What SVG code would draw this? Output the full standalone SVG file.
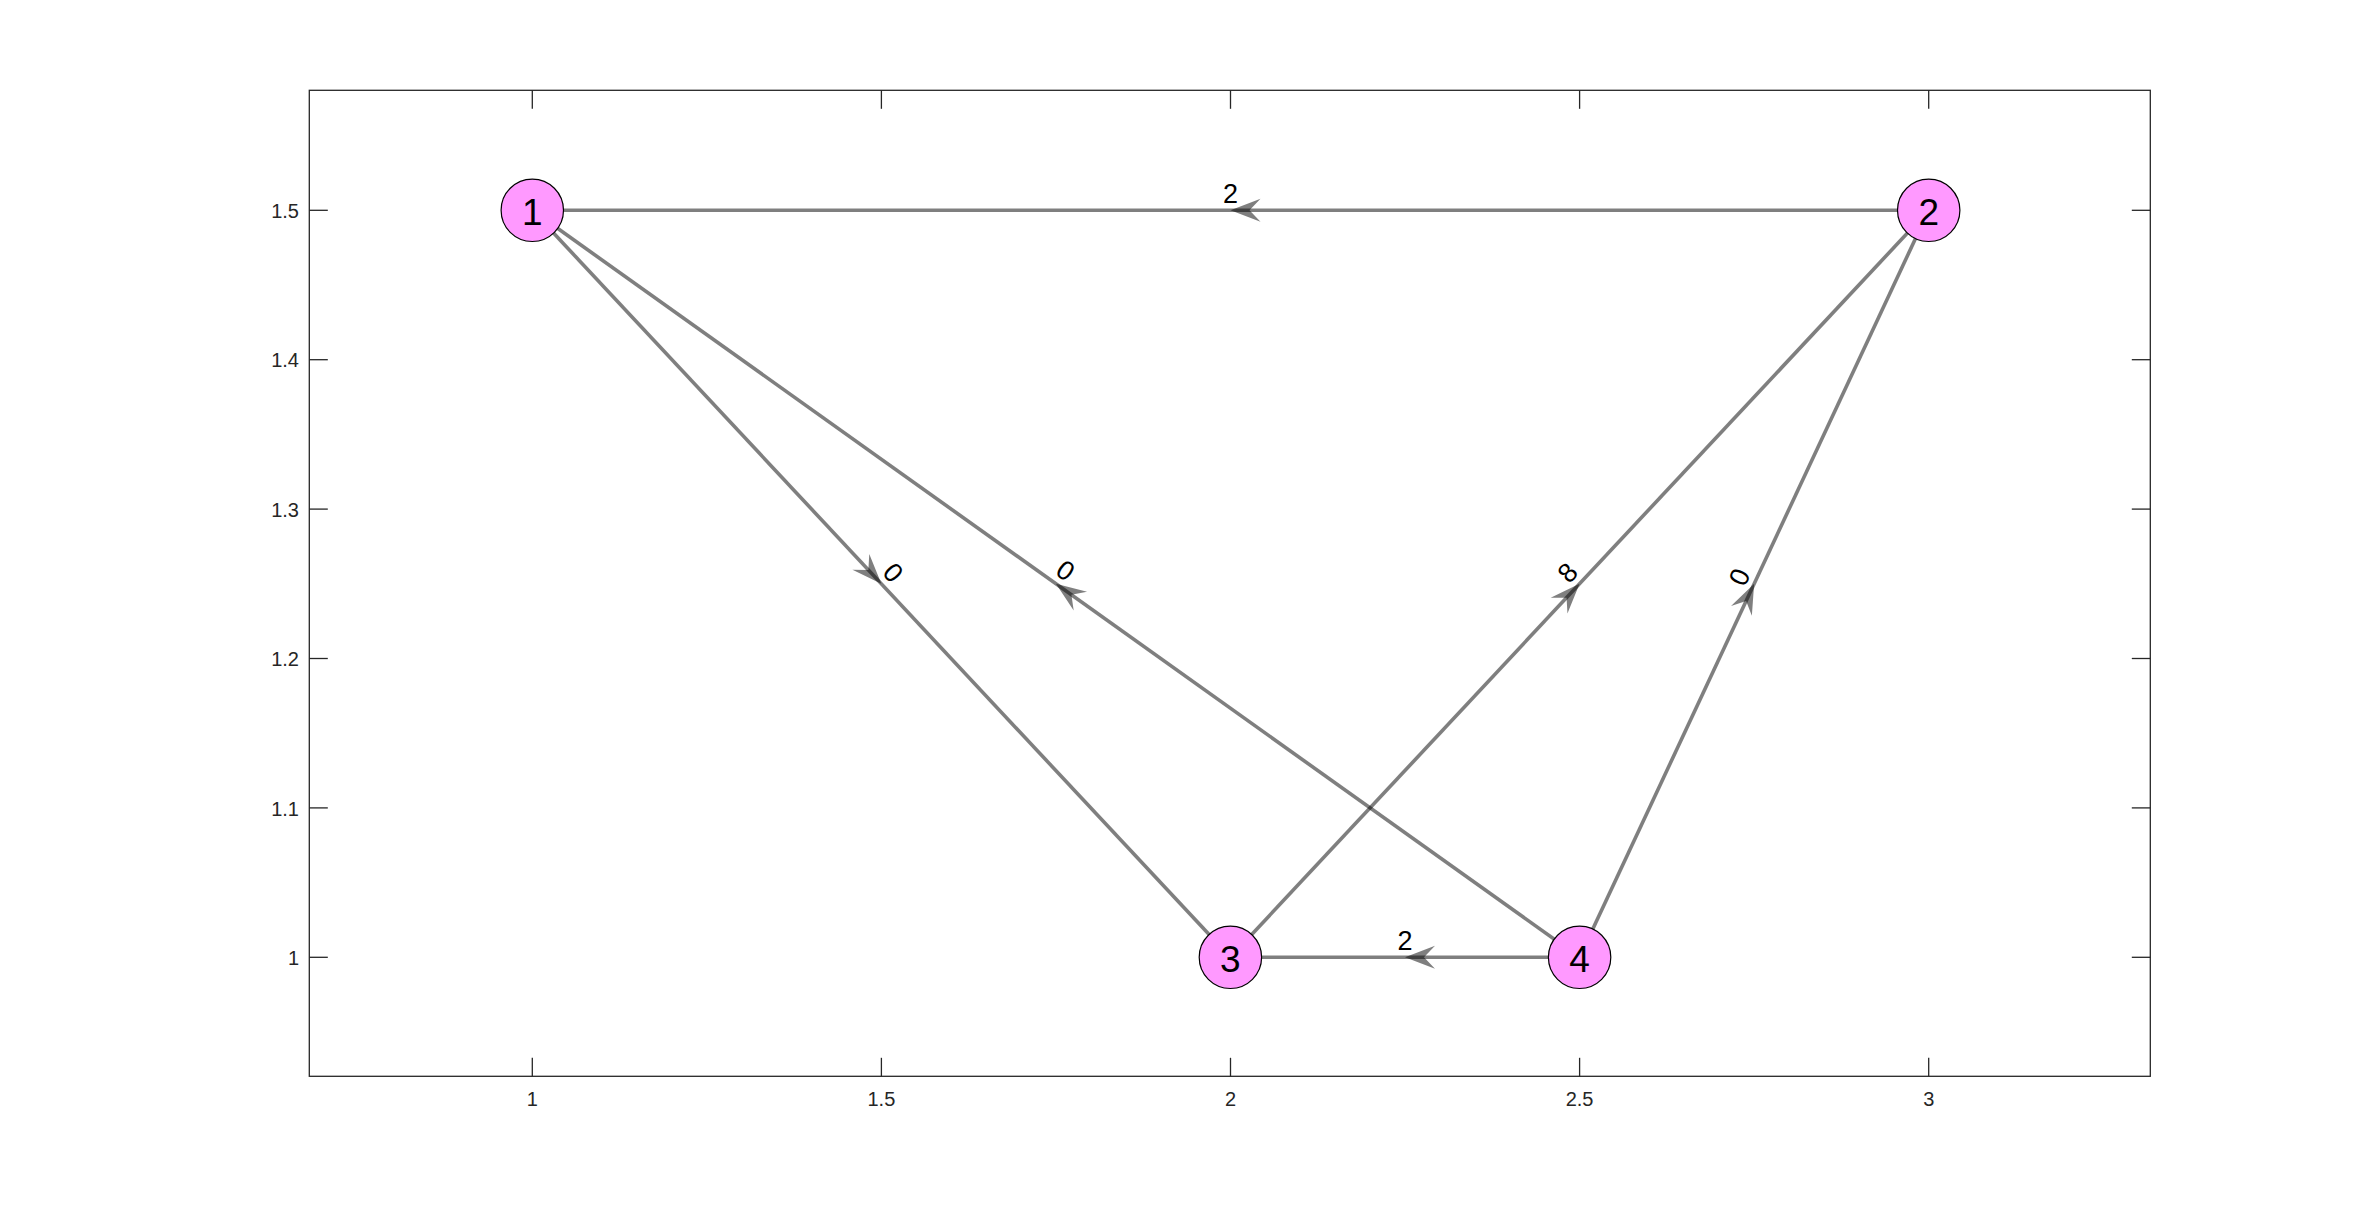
<svg xmlns="http://www.w3.org/2000/svg" xmlns:xlink="http://www.w3.org/1999/xlink" width="2378" height="1210" viewBox="0 0 2378 1210">
<style>
.ax{fill:none;stroke:#262626;stroke-width:1.3}
.tk{stroke:#262626;stroke-width:1.3}
.tl{font-family:"Liberation Sans",Arial,sans-serif;font-size:20px;fill:#262626}
.tly{text-anchor:end}
.tlx{text-anchor:middle}
.edge{stroke:#000;stroke-opacity:0.5;stroke-width:3.6;fill:none}
.ah{fill:#000;fill-opacity:0.5}
.el{font-family:"Liberation Sans",Arial,sans-serif;font-size:27px;fill:#000;text-anchor:middle}
.node{fill:#FF99FF;stroke:#000;stroke-width:1.2}
.nl{font-family:"Liberation Sans",Arial,sans-serif;font-size:37px;fill:#000;text-anchor:middle}
</style>
<defs>
<path id="arrow" d="M0,0 L-30,-11.5 L-19,0 L-30,11.5 Z"/>
</defs>
<rect width="2378" height="1210" fill="#fff"/>
<g id="axes">
<rect class="ax" x="309.3" y="90.3" width="1841" height="986"/>
<g class="tk">
<line x1="532.3" y1="1076.3" x2="532.3" y2="1057.8"/>
<line x1="881.4" y1="1076.3" x2="881.4" y2="1057.8"/>
<line x1="1230.5" y1="1076.3" x2="1230.5" y2="1057.8"/>
<line x1="1579.6" y1="1076.3" x2="1579.6" y2="1057.8"/>
<line x1="1928.7" y1="1076.3" x2="1928.7" y2="1057.8"/>
<line x1="532.3" y1="90.3" x2="532.3" y2="108.8"/>
<line x1="881.4" y1="90.3" x2="881.4" y2="108.8"/>
<line x1="1230.5" y1="90.3" x2="1230.5" y2="108.8"/>
<line x1="1579.6" y1="90.3" x2="1579.6" y2="108.8"/>
<line x1="1928.7" y1="90.3" x2="1928.7" y2="108.8"/>
<line x1="309.3" y1="210.3" x2="327.8" y2="210.3"/>
<line x1="309.3" y1="359.7" x2="327.8" y2="359.7"/>
<line x1="309.3" y1="509.1" x2="327.8" y2="509.1"/>
<line x1="309.3" y1="658.5" x2="327.8" y2="658.5"/>
<line x1="309.3" y1="807.9" x2="327.8" y2="807.9"/>
<line x1="309.3" y1="957.3" x2="327.8" y2="957.3"/>
<line x1="2150.3" y1="210.3" x2="2131.8" y2="210.3"/>
<line x1="2150.3" y1="359.7" x2="2131.8" y2="359.7"/>
<line x1="2150.3" y1="509.1" x2="2131.8" y2="509.1"/>
<line x1="2150.3" y1="658.5" x2="2131.8" y2="658.5"/>
<line x1="2150.3" y1="807.9" x2="2131.8" y2="807.9"/>
<line x1="2150.3" y1="957.3" x2="2131.8" y2="957.3"/>
</g>
<g class="tl tly">
<text x="299" y="218">1.5</text>
<text x="299" y="367.4">1.4</text>
<text x="299" y="516.8">1.3</text>
<text x="299" y="666.2">1.2</text>
<text x="299" y="815.6">1.1</text>
<text x="299" y="965">1</text>
</g>
<g class="tl tlx">
<text x="532.3" y="1106">1</text>
<text x="881.4" y="1106">1.5</text>
<text x="1230.5" y="1106">2</text>
<text x="1579.6" y="1106">2.5</text>
<text x="1928.7" y="1106">3</text>
</g>
</g>
<g id="connectors">
<line class="edge" x1="1928.7" y1="210.3" x2="532.3" y2="210.3"/>
<line class="edge" x1="532.3" y1="210.3" x2="1230.4" y2="957.3"/>
<line class="edge" x1="1579.6" y1="957.3" x2="532.3" y2="210.3"/>
<line class="edge" x1="1230.4" y1="957.3" x2="1928.7" y2="210.3"/>
<line class="edge" x1="1579.6" y1="957.3" x2="1928.7" y2="210.3"/>
<line class="edge" x1="1579.6" y1="957.3" x2="1230.4" y2="957.3"/>
<use class="ah" xlink:href="#arrow" transform="translate(1230.5,210.3) rotate(180)"/>
<use class="ah" xlink:href="#arrow" transform="translate(881.35,583.8) rotate(46.93)"/>
<use class="ah" xlink:href="#arrow" transform="translate(1055.95,583.8) rotate(215.5)"/>
<use class="ah" xlink:href="#arrow" transform="translate(1579.55,583.8) rotate(-46.93)"/>
<use class="ah" xlink:href="#arrow" transform="translate(1754.15,583.8) rotate(-64.95)"/>
<use class="ah" xlink:href="#arrow" transform="translate(1405,957.3) rotate(180)"/>
<text class="el" transform="translate(1230.5,210.3)" x="0" y="-7">2</text>
<text class="el" transform="translate(881.35,583.8) rotate(46.93)" x="0" y="-7">0</text>
<text class="el" transform="translate(1055.95,583.8) rotate(35.5)" x="0" y="-7">0</text>
<text class="el" transform="translate(1579.55,583.8) rotate(-46.93)" x="0" y="-7">8</text>
<text class="el" transform="translate(1754.15,583.8) rotate(-64.95)" x="0" y="-7">0</text>
<text class="el" transform="translate(1405,957.3)" x="0" y="-7">2</text>
</g>
<g id="node1"><circle class="node" cx="532.3" cy="210.3" r="31.2"/><text class="nl" x="532.3" y="224.8">1</text></g>
<g id="node2"><circle class="node" cx="1928.7" cy="210.3" r="31.2"/><text class="nl" x="1928.7" y="224.8">2</text></g>
<g id="node3"><circle class="node" cx="1230.4" cy="957.3" r="31.2"/><text class="nl" x="1230.4" y="971.8">3</text></g>
<g id="node4"><circle class="node" cx="1579.6" cy="957.3" r="31.2"/><text class="nl" x="1579.6" y="971.8">4</text></g>
</svg>
